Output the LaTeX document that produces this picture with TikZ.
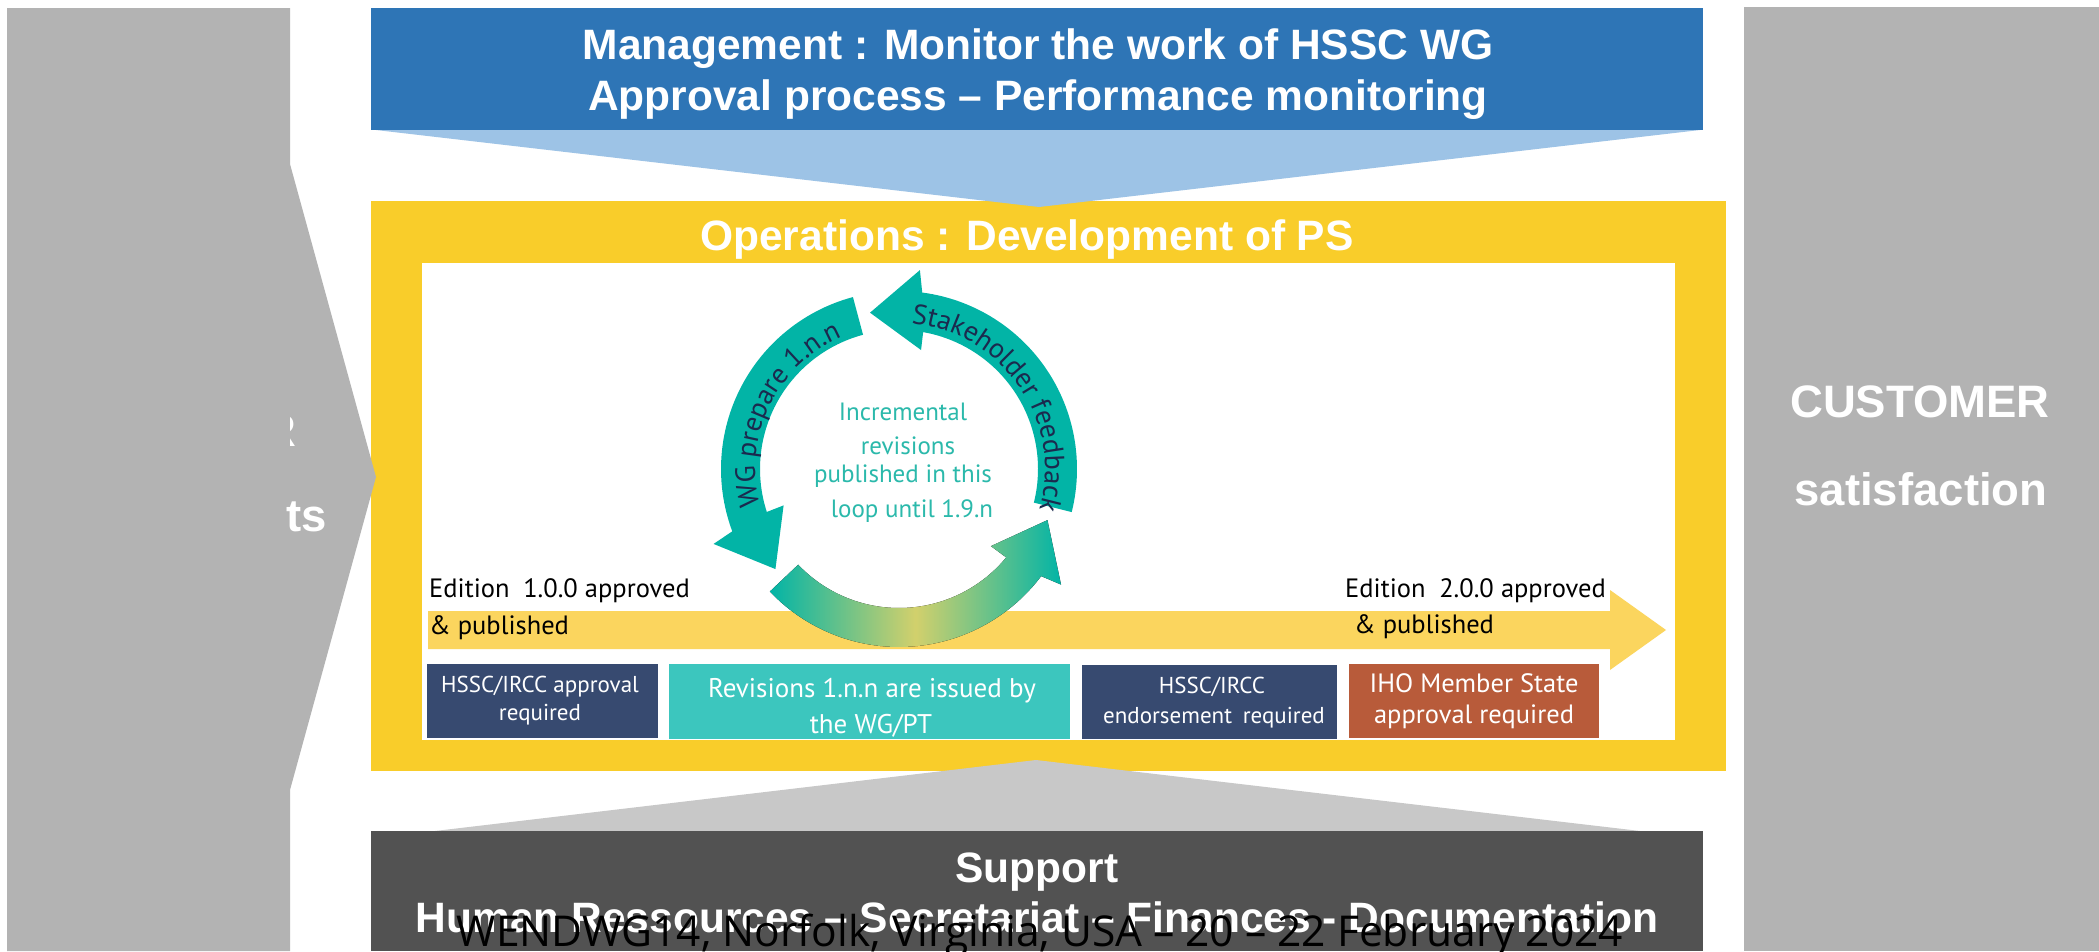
\documentclass[tikz,border=0pt]{standalone}
\usepackage{fontspec}
\setmainfont{Liberation Sans}
\newfontfamily\ptsans{PT Sans}
\newfontfamily\osans{Open Sans}
\usetikzlibrary{decorations.text}
\definecolor{panelgray}{HTML}{B3B3B3}
\definecolor{mgmtblue}{HTML}{2E75B6}
\definecolor{lightblue}{HTML}{9DC3E6}
\definecolor{opyellow}{HTML}{F9CD2A}
\definecolor{suplight}{HTML}{C8C8C8}
\definecolor{supdark}{HTML}{525252}
\definecolor{loopteal}{HTML}{02B4A6}
\definecolor{arcnavy}{HTML}{1B2A4E}
\definecolor{innerteal}{HTML}{2BB9AB}
\definecolor{boxnavy}{HTML}{374A70}
\definecolor{boxteal}{HTML}{3CC6BE}
\definecolor{boxbrown}{HTML}{B85B3A}
\definecolor{bandyellow}{HTML}{FBD55E}
\definecolor{midgreen}{HTML}{D2D06C}
\tikzset{
  boldtxt/.style={font=\fontsize{42.5}{50}\selectfont\bfseries, text=white, inner sep=0pt, anchor=base},
  sidetxt/.style={font=\fontsize{45.5}{50}\selectfont\bfseries, text=white, inner sep=0pt, anchor=base},
  looptxt/.style={font=\ptsans\fontsize{25}{30}\selectfont, text=innerteal, inner sep=0pt, anchor=base},
  edtxt/.style={font=\ptsans\fontsize{26.5}{30}\selectfont, text=black, inner sep=0pt, anchor=base west},
  boxtxt/.style={font=\ptsans\fontsize{#1}{#1}\selectfont, text=white, inner sep=0pt, anchor=base},
  infobox/.style={fill=#1, draw=none, inner sep=0pt, minimum height=74},
  arctext/.style={decorate, decoration={text along path, text align=center,
      text={|\ptsans\fontsize{28}{30}\selectfont\color{arcnavy}|#1}}},
  footer/.style={font=\osans\fontsize{42.5}{50}\selectfont, text=black, inner sep=0pt, anchor=base}
}
\begin{document}
\begin{tikzpicture}[x=1pt,y=-1pt]
\useasboundingbox (0,0) rectangle (2099,951);
\fill[white] (0,0) rectangle (2099,951);
% right panel
\fill[panelgray] (1744,7) rectangle (2099,951);
% management banner
\fill[mgmtblue] (371,8) rectangle (1703,130);
% operations frame
\fill[opyellow] (371,201) rectangle (1726,771);
\fill[lightblue] (376,130) -- (1700,130) -- (1039,207) -- cycle;
\fill[white] (422,263) rectangle (1675,740);
% timeline arrow
\fill[bandyellow] (428,611) -- (1610,611) -- (1610,590) -- (1666,630) -- (1610,670) -- (1610,649) -- (428,649) -- cycle;
% loop
\begin{scope}[shift={(899,469)}]
  \fill[loopteal] (374:178) -- plot[domain=374:277.5, samples=60] (\x:178) -- (276:200) -- (259.5:159) -- (280.5:121) -- (280:139) -- plot[domain=280:374, samples=60] (\x:139) -- cycle;
  \fill[loopteal] (255:178) -- plot[domain=255:159.5, samples=60] (\x:178) -- (158:200) -- (141:159) -- (162.5:121) -- (162:139) -- plot[domain=162:255, samples=60] (\x:139) -- cycle;
  \fill[left color=loopteal, right color=loopteal, middle color=midgreen] (136.5:178) -- plot[domain=136.5:37, samples=60] (\x:178) -- (35.5:199) -- (19:157) -- (40:120) -- (39.5:139) -- plot[domain=39.5:136.5, samples=60] (\x:139) -- cycle;
  \path[arctext={Stakeholder feedback}] plot[domain=265.5:385.5, samples=80] (\x:146);
  \path[arctext={WG prepare 1.n.n}] plot[domain=146:266, samples=80] (\x:144);
\end{scope}
\node[looptxt] (l1) at (903,420) {Incremental};
\node[looptxt] (l2) at (908,454) {revisions};
\node[looptxt] (l3) at (903,482) {published in this};
\node[looptxt] (l4) at (912,517) {loop until 1.9.n};
% edition labels
\node[edtxt] (e1a) at (429,597) {Edition\hspace{0.25em} 1.0.0 approved};
\node[edtxt] (e1b) at (429,634) {\& published};
\node[edtxt] (e2a) at (1345,597) {Edition\hspace{0.25em} 2.0.0 approved};
\node[edtxt] (e2b) at (1354,633) {\& published};
% info boxes
\node[infobox=boxnavy, minimum width=231] (b1) at (542.5,701) {};
\node[boxtxt=23] (b1a) at (540,692) {HSSC/IRCC approval};
\node[boxtxt=23] (b1b) at (540,720) {required};
\node[infobox=boxteal, minimum width=401, minimum height=75] (b2) at (869.5,701.5) {};
\node[boxtxt=27] (b2a) at (872,697) {Revisions 1.n.n are issued by};
\node[boxtxt=27] (b2b) at (871,733) {the WG/PT};
\node[infobox=boxnavy, minimum width=255] (b3) at (1209.5,702) {};
\node[boxtxt=23] (b3a) at (1212,693) {HSSC/IRCC};
\node[boxtxt=23] (b3b) at (1214,723) {endorsement\hspace{0.2em} required};
\node[infobox=boxbrown, minimum width=250] (b4) at (1474,701) {};
\node[boxtxt=26.5] (b4a) at (1474,692) {IHO Member State};
\node[boxtxt=26.5] (b4b) at (1474,723) {approval required};
% support
\fill[suplight] (435,831) -- (1640,831) -- (1036,760) -- cycle;
\fill[supdark] (371,831) rectangle (1703,951);
% left panel chevron
\fill[panelgray] (7,8) -- (290,8) -- (290,164) -- (376,477) -- (290,790) -- (290,951) -- (7,951) -- cycle;
\begin{scope}
  \clip (290,380) rectangle (380,470);
  \node[sidetxt, anchor=base east] (lr) at (297,446) {R};
\end{scope}
\node[sidetxt, anchor=base east] (lts) at (327,531) {ts};
% texts
\node[boldtxt] (m1) at (1038,59) {Management : Monitor the work of HSSC WG};
\node[boldtxt] (m2) at (1038,110) {Approval process – Performance monitoring};
\node[boldtxt] (op) at (1027,250) {Operations : Development of PS};
\node[boldtxt] (s1) at (1037,882) {Support};
\node[boldtxt] (s2) at (1037,932) {Human Ressources – Secretariat – Finances - Documentation};
\node[footer] (ft) at (1040,946) {WENDWG14, Norfolk, Virginia, USA – 20 – 22 February 2024};
\node[sidetxt] (c1) at (1920,417) {CUSTOMER};
\node[sidetxt] (c2) at (1921,505) {satisfaction};
\end{tikzpicture}
\end{document}
